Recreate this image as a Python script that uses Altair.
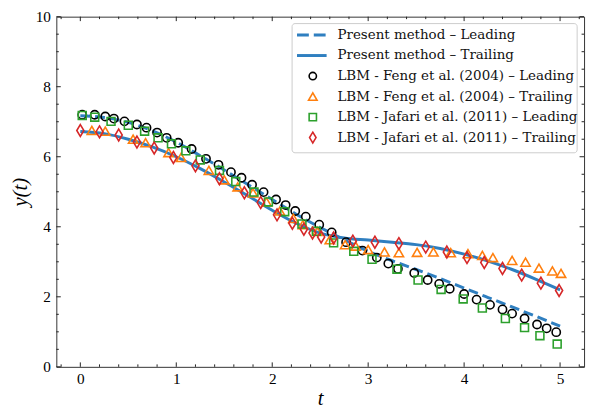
import altair as alt
import pandas as pd

# ---------------- data ----------------
line_t = [0, 0.25, 0.5, 0.75, 1.0, 1.25, 1.5, 1.75, 2.0, 2.25, 2.5,
          2.75, 3.0, 3.25, 3.5, 3.75, 4.0, 4.25, 4.5, 4.75, 5.0]
lead_line = [7.17, 7.12, 6.98, 6.74, 6.42, 6.03, 5.62, 5.20, 4.78, 4.36, 3.98,
             3.63, 3.30, 3.03, 2.78, 2.52, 2.25, 1.98, 1.71, 1.44, 1.16]
trail_line = [6.72, 6.66, 6.50, 6.28, 6.00, 5.66, 5.28, 4.88, 4.47, 4.10, 3.82,
              3.68, 3.62, 3.56, 3.49, 3.38, 3.22, 3.02, 2.78, 2.50, 2.20]

feng_lead_t = [0.02, 0.15, 0.26, 0.35, 0.46, 0.59, 0.69, 0.80, 0.90, 1.02, 1.16,
               1.31, 1.44, 1.57, 1.68, 1.79, 1.91, 2.04, 2.14, 2.24, 2.35, 2.49,
               2.62, 2.77, 2.94, 3.09, 3.21, 3.31, 3.48, 3.62, 3.74, 3.85, 4.00,
               4.13, 4.27, 4.40, 4.50, 4.63, 4.76, 4.86, 4.96]
feng_lead_y = [7.20, 7.20, 7.15, 7.09, 7.01, 6.92, 6.83, 6.69, 6.54, 6.40, 6.22,
               5.94, 5.77, 5.56, 5.40, 5.20, 4.99, 4.78, 4.62, 4.45, 4.29, 4.06,
               3.84, 3.56, 3.32, 3.12, 2.95, 2.80, 2.68, 2.48, 2.37, 2.23, 2.08,
               1.92, 1.77, 1.64, 1.52, 1.38, 1.21, 1.10, 0.99]

feng_trail_t = [0.12, 0.26, 0.55, 0.68, 0.92, 1.05, 1.34, 1.50, 1.64, 1.80, 1.94,
                2.08, 2.22, 2.32, 2.47, 2.60, 2.76, 2.87, 3.00, 3.17, 3.32, 3.51,
                3.68, 3.86, 4.04, 4.19, 4.30, 4.50, 4.64, 4.78, 4.92, 5.01]
feng_trail_y = [6.75, 6.73, 6.50, 6.40, 6.12, 5.98, 5.61, 5.34, 5.14, 4.97, 4.71,
                4.45, 4.24, 4.06, 3.87, 3.63, 3.49, 3.45, 3.35, 3.28, 3.26, 3.27,
                3.28, 3.26, 3.23, 3.18, 3.12, 3.04, 2.99, 2.82, 2.74, 2.67]

jafari_lead_t = [0.02, 0.15, 0.32, 0.50, 0.67, 0.81, 0.95, 1.10, 1.25, 1.45, 1.62,
                 1.81, 1.96, 2.13, 2.31, 2.46, 2.64, 2.85, 3.04, 3.30, 3.52, 3.76,
                 3.99, 4.19, 4.43, 4.63, 4.79, 4.97]
jafari_lead_y = [7.18, 7.13, 7.01, 6.90, 6.73, 6.54, 6.37, 6.17, 5.91, 5.61, 5.29,
                 4.99, 4.71, 4.43, 4.08, 3.87, 3.54, 3.30, 3.07, 2.79, 2.48, 2.21,
                 1.94, 1.68, 1.38, 1.12, 0.89, 0.65]

jafari_trail_t = [0.00, 0.20, 0.40, 0.59, 0.77, 0.97, 1.20, 1.45, 1.71, 1.88, 2.05,
                  2.21, 2.33, 2.42, 2.51, 2.64, 2.84, 3.07, 3.32, 3.60, 3.82, 4.03,
                  4.21, 4.40, 4.60, 4.80, 4.99]
jafari_trail_y = [6.75, 6.71, 6.62, 6.42, 6.25, 5.98, 5.74, 5.37, 4.97, 4.69, 4.34,
                  4.10, 3.93, 3.82, 3.71, 3.68, 3.59, 3.56, 3.52, 3.42, 3.28, 3.12,
                  2.98, 2.81, 2.62, 2.39, 2.18]

x_major = [0, 1, 2, 3, 4, 5]
x_minor = [-0.2, 0.2, 0.4, 0.6, 0.8, 1.2, 1.4, 1.6, 1.8, 2.2, 2.4, 2.6, 2.8,
           3.2, 3.4, 3.6, 3.8, 4.2, 4.4, 4.6, 4.8, 5.2]
y_major = [0, 2, 4, 6, 8, 10]
y_minor = [0.5, 1, 1.5, 2.5, 3, 3.5, 4.5, 5, 5.5, 6.5, 7, 7.5, 8.5, 9, 9.5]

legend_labels = [
    "Present method – Leading",
    "Present method – Trailing",
    "LBM - Feng et al. (2004) – Leading",
    "LBM - Feng et al. (2004) – Trailing",
    "LBM - Jafari et al. (2011) – Leading",
    "LBM - Jafari et al. (2011) – Trailing",
]

# ---------------- styling ----------------
W, H = 535, 355
FONT = "Liberation Serif"
LEG_FONT = "DejaVu Serif"
BLUE = "#2f7fc0"
ORANGE = "#ff7f0e"
GREEN = "#2ca02c"
RED = "#d62728"
DIAMOND = "M0,-1L0.6,0L0,1L-0.6,0Z"
DASH = [10, 5]

xs = alt.Scale(domain=[-0.25, 5.25], nice=False, zero=False)
ys = alt.Scale(domain=[0, 10], nice=False, zero=False)

x_axis = alt.Axis(values=x_major, format="d", ticks=False, domain=False, grid=False,
                  labelFont=FONT, labelFontSize=15.5, labelPadding=5, labelColor="black",
                  title="t", titleFont=FONT, titleFontStyle="italic", titleFontSize=21,
                  titleFontWeight="normal", titlePadding=1, titleColor="black")
y_axis = alt.Axis(values=y_major, format="d", ticks=False, domain=False, grid=False,
                  labelFont=FONT, labelFontSize=15.5, labelPadding=6, labelColor="black",
                  title="y(t)", titleFont=FONT, titleFontStyle="italic", titleFontSize=21,
                  titleFontWeight="normal", titlePadding=5, titleColor="black")

lines_df = pd.DataFrame({"t": line_t, "lead": lead_line, "trail": trail_line})

lead_ln = alt.Chart(lines_df).mark_line(
    color=BLUE, strokeWidth=3, strokeDash=DASH, interpolate="monotone"
).encode(x=alt.X("t:Q", scale=xs, axis=x_axis), y=alt.Y("lead:Q", scale=ys, axis=y_axis))

trail_ln = alt.Chart(lines_df).mark_line(
    color=BLUE, strokeWidth=3, interpolate="monotone"
).encode(x=alt.X("t:Q", scale=xs), y=alt.Y("trail:Q", scale=ys))


def pts(tv, yv, shape, color, size):
    df = pd.DataFrame({"t": tv, "y": yv})
    return alt.Chart(df).mark_point(
        shape=shape, color=color, filled=False, strokeWidth=1.6, size=size, opacity=1
    ).encode(x=alt.X("t:Q", scale=xs), y=alt.Y("y:Q", scale=ys))


p_feng_lead = pts(feng_lead_t, feng_lead_y, "circle", "black", 70)
p_feng_trail = pts(feng_trail_t, feng_trail_y, "triangle-up", ORANGE, 90)
p_jaf_lead = pts(jafari_lead_t, jafari_lead_y, "square", GREEN, 64)
p_jaf_trail = pts(jafari_trail_t, jafari_trail_y, DIAMOND, RED, 144)

# ---------------- inward ticks on all four sides ----------------
TICK = "#222222"


def xticks(vals, length, top):
    df = pd.DataFrame({"v": vals})
    y0, y1 = (0, length) if top else (H, H - length)
    return alt.Chart(df).mark_rule(color=TICK, strokeWidth=1).encode(
        x=alt.X("v:Q", scale=xs), y=alt.value(y0), y2=alt.value(y1))


def yticks(vals, length, right):
    df = pd.DataFrame({"v": vals})
    x0, x1 = (W, W - length) if right else (0, length)
    return alt.Chart(df).mark_rule(color=TICK, strokeWidth=1).encode(
        y=alt.Y("v:Q", scale=ys), x=alt.value(x0), x2=alt.value(x1))


ticks = [xticks(x_major, 4.5, False), xticks(x_major, 4.5, True),
         xticks(x_minor, 2.5, False), xticks(x_minor, 2.5, True),
         yticks(y_major, 4.5, False), yticks(y_major, 4.5, True),
         yticks(y_minor, 2.5, False), yticks(y_minor, 2.5, True)]

# ---------------- legend ----------------
LX0, LX1, LY0, LY1 = 239, 528, 7, 138
ROW0, ROWSTEP = 18.6, 20.8

frame = alt.Chart(alt.Data(values=[{"k": 1}])).mark_rect(
    fill="white", fillOpacity=0.85, stroke="#cccccc", strokeWidth=1, cornerRadius=3
).encode(x=alt.value(LX0), x2=alt.value(LX1), y=alt.value(LY0), y2=alt.value(LY1))

leg_df = pd.DataFrame({"label": legend_labels, "row": list(range(len(legend_labels)))})
py_expr = f"{ROW0} + {ROWSTEP} * datum.row"


def leg_base():
    return alt.Chart(leg_df).transform_calculate(py=py_expr)


leg_text = leg_base().mark_text(
    align="left", baseline="middle", fontSize=13.6, font=LEG_FONT, color="#111111"
).encode(x=alt.value(285), y=alt.Y("py:Q", scale=None), text="label:N")

leg_dash = leg_base().transform_filter("datum.row == 0").mark_rule(
    color=BLUE, strokeWidth=3, strokeDash=[12, 5]
).encode(x=alt.value(244), x2=alt.value(274), y=alt.Y("py:Q", scale=None))

leg_solid = leg_base().transform_filter("datum.row == 1").mark_rule(
    color=BLUE, strokeWidth=3
).encode(x=alt.value(244), x2=alt.value(274), y=alt.Y("py:Q", scale=None))


def leg_pt(row, shape, color, size):
    return leg_base().transform_filter(f"datum.row == {row}").mark_point(
        shape=shape, color=color, filled=False, strokeWidth=1.6, size=size, opacity=1
    ).encode(x=alt.value(260), y=alt.Y("py:Q", scale=None))


legend_layers = [frame, leg_dash, leg_solid,
                 leg_pt(2, "circle", "black", 55),
                 leg_pt(3, "triangle-up", ORANGE, 75),
                 leg_pt(4, "square", GREEN, 55),
                 leg_pt(5, DIAMOND, RED, 120),
                 leg_text]

chart = alt.layer(
    lead_ln, trail_ln, p_feng_lead, p_feng_trail, p_jaf_lead, p_jaf_trail,
    *ticks, *legend_layers
).properties(
    width=W, height=H,
    autosize=alt.AutoSizeParams(type="none"),
    padding={"left": 49, "top": 6, "right": 4, "bottom": 44},
).configure_view(
    stroke="#333333", strokeWidth=1
)

chart.save("out.html", embed_options={"renderer": "svg", "actions": False})
